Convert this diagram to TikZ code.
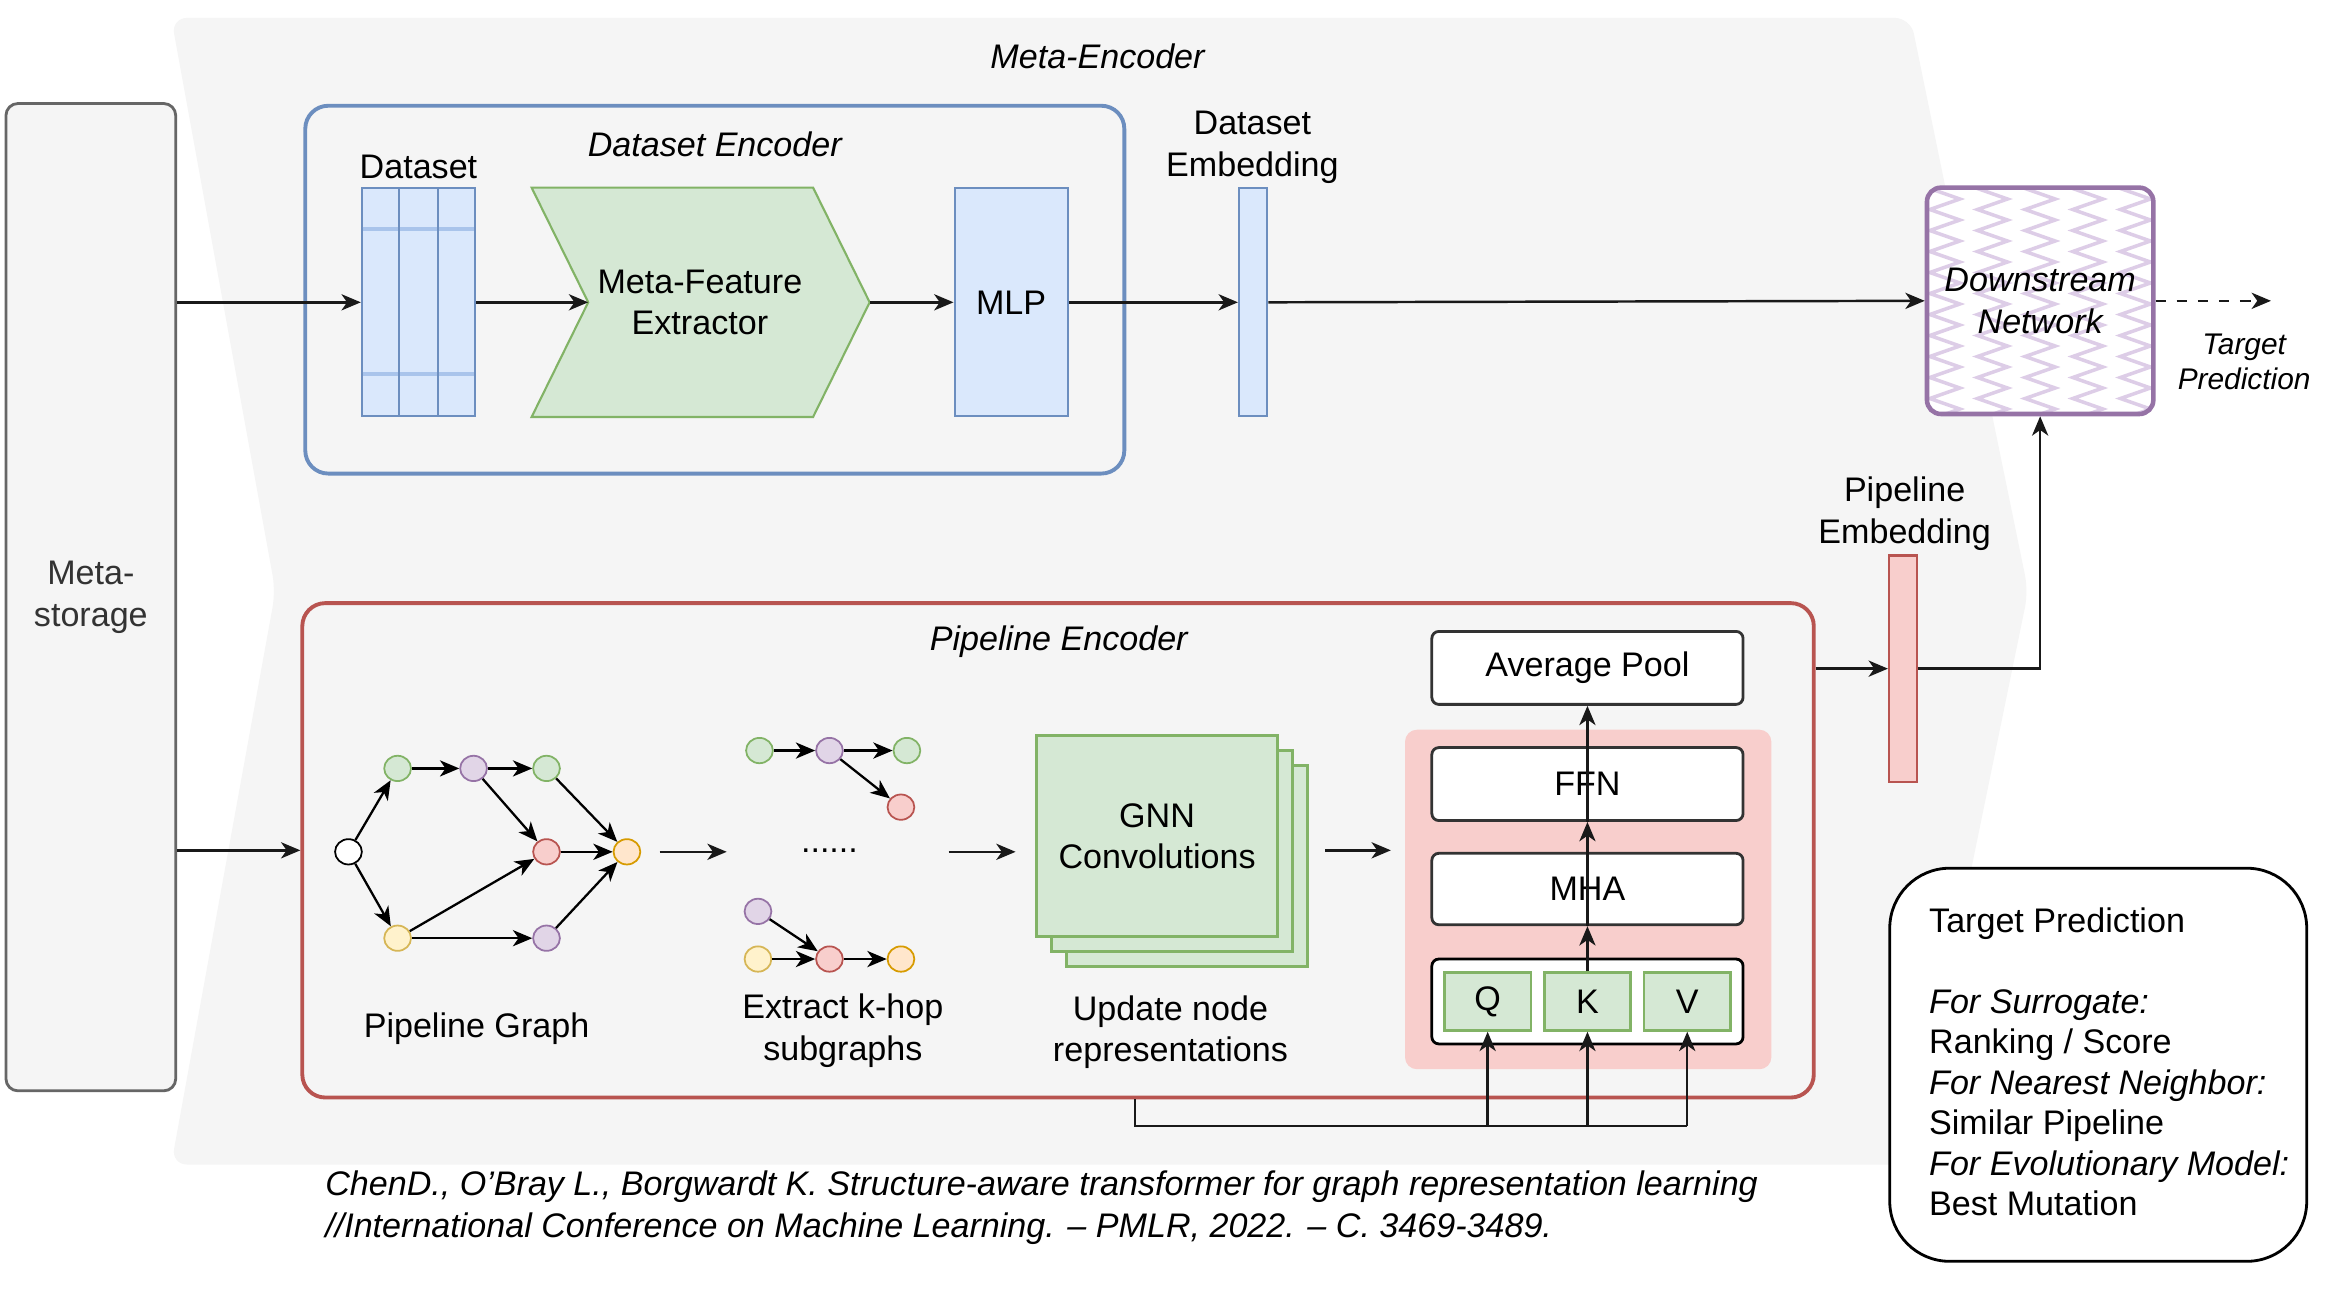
\documentclass[tikz,border=0pt]{standalone}
\usepackage{fontspec}
\setmainfont{Liberation Sans}
\usetikzlibrary{arrows.meta,shapes.geometric,decorations.pathmorphing}

\definecolor{bgGray}{HTML}{F5F5F5}
\definecolor{grayLine}{HTML}{666666}
\definecolor{blueFill}{HTML}{DAE8FC}
\definecolor{blueLine}{HTML}{6C8EBF}
\definecolor{blueRow}{HTML}{A9C4EB}
\definecolor{greenFill}{HTML}{D5E8D4}
\definecolor{greenLine}{HTML}{82B366}
\definecolor{redFill}{HTML}{F8CECC}
\definecolor{redLine}{HTML}{B85450}
\definecolor{purpleFill}{HTML}{E1D5E7}
\definecolor{purpleLine}{HTML}{9673A6}
\definecolor{zzPurple}{HTML}{DDCDE7}
\definecolor{orangeFill}{HTML}{FFE6CC}
\definecolor{orangeLine}{HTML}{D79B00}
\definecolor{yellowFill}{HTML}{FFF2CC}
\definecolor{yellowLine}{HTML}{D6B656}

\tikzset{
  txt/.style={font=\fontsize{9.7}{11.8}\selectfont, align=center},
  itl/.style={font=\fontsize{9.7}{11.8}\selectfont\itshape, align=center},
  arr/.style={draw=black!90, line width=0.7pt, -{Stealth[length=5.5pt,width=4.6pt,inset=1.6pt]}},
  garr/.style={draw=black, line width=0.65pt, -{Stealth[length=5.5pt,width=4.6pt,inset=1.6pt]}},
  store/.style={txt, draw=grayLine, fill=bgGray, line width=0.8pt, rounded corners=1.2mm, text=black!80},
  encbox/.style={line width=1.1pt, rounded corners=2.3mm},
  bluebox/.style={txt, draw=blueLine, fill=blueFill, line width=0.6pt, inner sep=0},
  redbar/.style={draw=redLine, fill=redFill, line width=0.6pt, inner sep=0},
  downbox/.style={itl, draw=purpleLine, line width=1.3pt, rounded corners=1.4mm},
  zz/.style={draw=zzPurple, line width=1pt, decorate, decoration={zigzag, segment length=2.1mm, amplitude=1.5mm}},
  gnode/.style={ellipse, line width=0.5pt, minimum width=18*\ku, minimum height=17*\ku, inner sep=0},
  nWhite/.style={gnode, draw=black, fill=white},
  nGreen/.style={gnode, draw=greenLine, fill=greenFill},
  nPurple/.style={gnode, draw=purpleLine, fill=purpleFill},
  nRed/.style={gnode, draw=redLine, fill=redFill},
  nOrange/.style={gnode, draw=orangeLine, fill=orangeFill},
  nYellow/.style={gnode, draw=yellowLine, fill=yellowFill},
  gnnbox/.style={txt, draw=greenLine, fill=greenFill, line width=0.8pt, minimum width=162*\ku, minimum height=135*\ku},
  layer/.style={txt, draw=black!80, fill=white, line width=0.8pt, rounded corners=0.7mm, minimum width=209*\ku},
  qkvbox/.style={txt, draw=greenLine, fill=greenFill, line width=0.7pt, minimum width=58*\ku, minimum height=39*\ku, inner sep=0},
  tpbox/.style={draw=black, fill=white, line width=0.8pt, rounded corners=6mm}
}

\begin{document}
\begin{tikzpicture}
\pgfmathsetmacro{\ku}{0.4237}
\tikzset{x=\ku pt,y=-\ku pt}
\useasboundingbox (0,0) rectangle (1568,870);
\fill[white] (0,0) rectangle (1568,870);
%meta-encoder background
\fill[bgGray, rounded corners=1.6mm] (115,12) -- (1283,12) -- (1362,397) -- (1283,782) -- (115,782) -- (185,397) -- cycle;
\node[itl] (mencLabel) at (737,38) {Meta-Encoder};
%meta-storage
\node[store, minimum width=114*\ku, minimum height=663*\ku] (store) at (61,401) {Meta-\\storage};

%dataset encoder
\node[encbox, draw=blueLine, minimum width=550*\ku, minimum height=247*\ku] (denc) at (480,194.5) {};
\node[itl] (dencLabel) at (480,97) {Dataset Encoder};
\node[bluebox, minimum width=76*\ku, minimum height=153*\ku] (tab) at (281,203) {};
\draw[blueRow, line width=1.2pt] (243.5,154) -- (318.5,154) (243.5,251) -- (318.5,251);
\draw[blueLine, line width=0.5pt] (268,126) -- (268,280) (294,126) -- (294,280);
\node[txt] (tabLabel) at (281,112) {Dataset};
\draw[greenLine, fill=greenFill, line width=0.6pt] (357,126) -- (546,126) -- (584,203) -- (546,280) -- (357,280) -- (395,203) -- cycle;
\coordinate (mfeIn) at (395,203);
\coordinate (mfeOut) at (584,203);
\node[txt] (mfe) at (470,203) {Meta-Feature\\Extractor};
\node[bluebox, minimum width=76*\ku, minimum height=153*\ku] (mlp) at (679,203) {MLP};
\node[bluebox, minimum width=19*\ku, minimum height=153*\ku] (demb) at (841.5,203) {};
\node[txt] (dembLabel) at (841,99) {Dataset\\Embedding};

%downstream network with zigzag fill
\fill[white, rounded corners=1.4mm] (1294,126) rectangle (1446,278);
\begin{scope}
\clip[rounded corners=1.4mm] (1294,126) rectangle (1446,278);
\foreach \zx in {1306,1338,...,1450}
  \draw[zz] (\zx,116) -- (\zx,292);
\end{scope}
\node[downbox, minimum width=152*\ku, minimum height=152*\ku] (down) at (1370,202) {Downstream\\Network};
\coordinate (tgt) at (1525,202);
\node[font=\fontsize{8.5}{10.2}\selectfont\itshape, align=center] (tgtLabel) at (1507,243) {Target\\Prediction};

\draw[arr] (store.east |- tab.west) -- (tab.west);
\draw[arr] (tab.east) -- (mfeIn);
\draw[arr] (mfeOut) -- (mlp.west);
\draw[arr] (mlp.east) -- (demb.west);
\draw[arr] (demb.east) -- (down.west);
\draw[arr, dashed] (down.east) -- (tgt);

%pipeline encoder
\node[encbox, draw=redLine, minimum width=1015*\ku, minimum height=332*\ku] (penc) at (710.5,571) {};
\node[itl] (pencLabel) at (711,431) {Pipeline Encoder};
\draw[arr] (store.east |- penc.west) -- (penc.west);

%pipeline graph
\node[nWhite] (g0) at (234,572) {};
\node[nGreen] (g1) at (267,516) {};
\node[nPurple] (g2) at (318,516) {};
\node[nGreen] (g3) at (367,516) {};
\node[nRed] (g4) at (367,572) {};
\node[nOrange] (g5) at (421,572) {};
\node[nYellow] (g6) at (267,630) {};
\node[nPurple] (g7) at (367,630) {};
\foreach \a/\b in {g0/g1,g0/g6,g1/g2,g2/g3,g2/g4,g3/g5,g4/g5,g6/g4,g6/g7,g7/g5}
  \draw[garr] (\a) -- (\b);
\node[txt] (graphLabel) at (320,691) {Pipeline Graph};

\coordinate (a1) at (443,572);
\coordinate (b1) at (488,572);
\draw[arr] (a1) -- (b1);

%k-hop subgraphs
\node[nGreen] (s1) at (510,504) {};
\node[nPurple] (s2) at (557,504) {};
\node[nGreen] (s3) at (609,504) {};
\node[nRed] (s4) at (605,542) {};
\node[nPurple] (s5) at (509,612) {};
\node[nYellow] (s6) at (509,644) {};
\node[nRed] (s7) at (557,644) {};
\node[nOrange] (s8) at (605,644) {};
\foreach \a/\b in {s1/s2,s2/s3,s2/s4,s5/s7,s6/s7,s7/s8}
  \draw[garr] (\a) -- (\b);
\node[txt] (dots) at (557,571) {......};
\node[txt] (subLabel) at (566,692) {Extract k-hop\\subgraphs};

\coordinate (a2) at (637,572);
\coordinate (b2) at (682,572);
\draw[arr] (a2) -- (b2);

%gnn convolutions
\node[gnnbox] (gnn3) at (797,581.5) {};
\node[gnnbox] (gnn2) at (787,571.5) {};
\node[gnnbox] (gnn) at (777,561.5) {GNN\\Convolutions};
\node[txt] (gnnLabel) at (786,693) {Update node\\representations};

\coordinate (a3) at (890,571);
\coordinate (b3) at (934,571);
\draw[arr] (a3) -- (b3);

%transformer block
\node[fill=redFill, rounded corners=1.2mm, minimum width=246*\ku, minimum height=228*\ku] (tf) at (1066.5,604) {};
\node[layer, minimum height=49*\ku] (pool) at (1066,448.5) {Average Pool};
\node[layer, minimum height=49*\ku] (ffn) at (1066,526.5) {FFN};
\node[layer, minimum height=48*\ku] (mha) at (1066,597) {MHA};
\node[layer, draw=black, minimum height=57*\ku] (qkv) at (1066,672.5) {};
\node[qkvbox] (q) at (999,672.5) {Q};
\node[qkvbox] (k) at (1066,672.5) {K};
\node[qkvbox] (v) at (1133,672.5) {V};
\draw[arr] (k.north) -- (mha.south);
\draw[arr] (mha.south) -- (ffn.south);
\draw[arr] (ffn.south) -- (pool.south);

\coordinate (split) at (762,756);
\draw[draw=black!90, line width=0.7pt] (penc.south -| split) -- (split) -- (v.south |- split);
\foreach \n in {q,k,v}
  \draw[arr] (\n.south |- split) -- (\n.south);

%pipeline embedding
\node[redbar, minimum width=19*\ku, minimum height=152*\ku] (pemb) at (1278,449) {};
\node[txt] (pembLabel) at (1279,345) {Pipeline\\Embedding};
\draw[arr] (penc.east |- pemb.west) -- (pemb.west);
\draw[arr] (pemb.east) -| (down.south);

%target prediction
\node[tpbox, minimum width=280*\ku, minimum height=264*\ku] (tpbox) at (1409,715) {};
\node[anchor=west, align=left, inner sep=0, font=\fontsize{9.7}{11.5}\selectfont] (tptext) at (1295,713) {Target Prediction\\[11.5pt]
  \textit{For Surrogate:}\\ Ranking / Score\\ \textit{For Nearest Neighbor:}\\ Similar Pipeline\\
  \textit{For Evolutionary Model:}\\ Best Mutation};

%reference
\node[anchor=west, align=left, inner sep=0, font=\fontsize{9.7}{11.8}\selectfont\itshape] (cite) at (218,811) {ChenD., O'Bray L., Borgwardt K. Structure-aware transformer for graph representation learning\\
  //International Conference on Machine Learning. – PMLR, 2022. – C. 3469-3489.};
\end{tikzpicture}
\end{document}
